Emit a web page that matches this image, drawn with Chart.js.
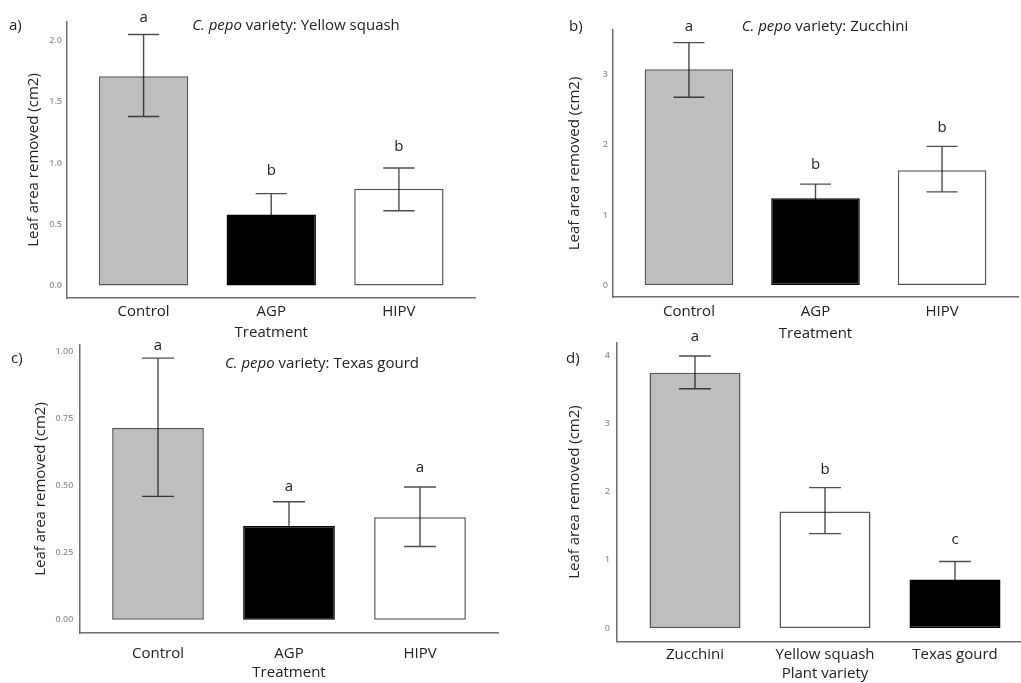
<!DOCTYPE html>
<html>
<head>
<meta charset="utf-8">
<script src="https://cdn.jsdelivr.net/npm/chart.js@4"></script>
<style>
  body { margin: 0; background: #fff; width: 1021px; height: 683px; position: relative; overflow: hidden; font-family: 'Open Sans', sans-serif; color: #222; }
  .panel { position: absolute; }
  .tag, .title { position: absolute; font-size: 15px; line-height: 1; white-space: nowrap; transform: translateY(-50%); z-index: 2; }
  .title { transform: translate(-50%, -50%); }
</style>
</head>
<body>
<div class="panel" style="left:0;top:0;width:480px;height:345px"><canvas id="chartA"></canvas></div>
<div class="panel" style="left:500px;top:0;width:521px;height:345px"><canvas id="chartB"></canvas></div>
<div class="panel" style="left:0;top:330px;width:500px;height:353px"><canvas id="chartC"></canvas></div>
<div class="panel" style="left:500px;top:330px;width:540px;height:353px"><canvas id="chartD"></canvas></div>

<div class="tag" style="left:9px;top:24px">a)</div>
<div class="tag" style="left:569px;top:25px">b)</div>
<div class="tag" style="left:11px;top:357px">c)</div>
<div class="tag" style="left:566px;top:357px">d)</div>
<div class="title" style="left:296px;top:24px"><i>C. pepo</i> variety: Yellow squash</div>
<div class="title" style="left:825px;top:25px"><i>C. pepo</i> variety: Zucchini</div>
<div class="title" style="left:322px;top:362px"><i>C. pepo</i> variety: Texas gourd</div>

<script>
Chart.defaults.font.family = "'Open Sans', sans-serif";
Chart.defaults.color = '#222';

var treatments = ['Control', 'AGP', 'HIPV'];
var varieties = ['Zucchini', 'Yellow squash', 'Texas gourd'];

// a) Yellow squash
var yellowMean = [1.71, 0.58, 0.79];
var yellowLow = [1.38, 0.41, 0.61];
var yellowHigh = [2.05, 0.75, 0.96];
var yellowLetters = ['a', 'b', 'b'];
var yellowLetterAt = [2.155, 0.90, 1.10];
var yellowTicks = [0, 0.5, 1, 1.5, 2];

// b) Zucchini
var zucchiniMean = [3.08, 1.24, 1.64];
var zucchiniLow = [2.68, 1.04, 1.33];
var zucchiniHigh = [3.46, 1.44, 1.98];
var zucchiniLetters = ['a', 'b', 'b'];
var zucchiniLetterAt = [3.63, 1.66, 2.19];
var zucchiniTicks = [0, 1, 2, 3];

// c) Texas gourd
var texasMean = [0.715, 0.35, 0.382];
var texasLow = [0.46, 0.26, 0.273];
var texasHigh = [0.975, 0.44, 0.495];
var texasLetters = ['a', 'a', 'a'];
var texasLetterAt = [1.007, 0.481, 0.549];
var texasTicks = [0, 0.25, 0.5, 0.75, 1];

// d) plant variety
var varietyMean = [3.746, 1.71, 0.714];
var varietyLow = [3.51, 1.385, 0.45];
var varietyHigh = [3.99, 2.06, 0.977];
var varietyLetters = ['a', 'b', 'c'];
var varietyLetterAt = [4.21, 2.26, 1.23];
var varietyTicks = [0, 1, 2, 3, 4];

var treatFill = ['#bebebe', '#000000', '#ffffff'];
var treatEdge = ['#555555', '#000000', '#555555'];
var varietyFill = ['#bebebe', '#ffffff', '#000000'];
var varietyEdge = ['#555555', '#555555', '#000000'];

// error bars + significance letters
function errorMarks(low, high, letters, letterAt) {
    return {
        id: 'errorMarks',
        afterDatasetsDraw: function(chart) {
            var ctx = chart.ctx, xs = chart.scales.x, ys = chart.scales.y;
            var meta = chart.getDatasetMeta(0);
            ctx.save();
            ctx.globalCompositeOperation = 'multiply';
            ctx.strokeStyle = '#4d4d4d';
            ctx.lineWidth = 1.4;
            low.forEach(function(lo, i) {
                var cx = xs.getPixelForValue(i);
                var half = meta.data[i].width * 0.175;
                var y0 = ys.getPixelForValue(lo), y1 = ys.getPixelForValue(high[i]);
                ctx.beginPath();
                ctx.moveTo(cx, y0); ctx.lineTo(cx, y1);
                ctx.moveTo(cx - half, y0); ctx.lineTo(cx + half, y0);
                ctx.moveTo(cx - half, y1); ctx.lineTo(cx + half, y1);
                ctx.stroke();
            });
            ctx.globalCompositeOperation = 'source-over';
            ctx.fillStyle = '#222';
            ctx.font = "15px 'Open Sans'";
            ctx.textAlign = 'center';
            ctx.textBaseline = 'alphabetic';
            letters.forEach(function(t, i) {
                ctx.fillText(t, xs.getPixelForValue(i), ys.getPixelForValue(letterAt[i]));
            });
            ctx.restore();
        }
    };
}

function makeChart(id, c) {
    new Chart(document.getElementById(id), {
        type: 'bar',
        data: {
            datasets: [{
                data: c.mean.map(function(v, i) { return { x: i, y: v }; }),
                backgroundColor: c.fill,
                borderColor: c.edge,
                borderWidth: 1.5,
                borderSkipped: false,
                barPercentage: 0.7,
                categoryPercentage: 1
            }]
        },
        options: {
            responsive: true,
            maintainAspectRatio: false,
            animation: false,
            layout: { padding: { top: c.padTop, right: c.padRight, left: 0, bottom: 0 } },
            plugins: { legend: { display: false }, tooltip: { enabled: false } },
            scales: {
                x: {
                    type: 'linear',
                    offset: false,
                    min: -0.6,
                    max: 2.6,
                    grid: { display: false, drawTicks: false, offset: false },
                    border: { display: true, color: '#6e6e6e', width: 1.5 },
                    afterBuildTicks: function(s) { s.ticks = c.cats.map(function(n, i) { return { value: i }; }); },
                    ticks: {
                        callback: function(v) { return c.cats[v]; },
                        font: { size: 15 }, color: '#222', padding: c.xTickPad,
                        maxRotation: 0, autoSkip: false
                    },
                    title: { display: true, text: c.xTitle, font: { size: 15 }, color: '#222', padding: { top: 0, bottom: c.xTitlePad } },
                    afterFit: function(s) { s.height = c.xH; }
                },
                y: {
                    min: c.yMin,
                    max: c.yMax,
                    grid: { display: false, drawTicks: false },
                    border: { display: true, color: '#6e6e6e', width: 1.5 },
                    afterBuildTicks: function(s) { s.ticks = c.ticks.map(function(v) { return { value: v }; }); },
                    ticks: {
                        callback: function(v) { return v.toFixed(c.dec); },
                        font: { size: 9, weight: '600' }, color: '#959595', padding: c.yTickPad
                    },
                    title: { display: true, text: 'Leaf area removed (cm2)', font: { size: 15 }, color: '#222', padding: { top: c.yTitlePad, bottom: 0 } },
                    afterFit: function(s) { s.width = c.yW; }
                }
            }
        },
        plugins: [errorMarks(c.low, c.high, c.letters, c.letterAt)]
    });
}

makeChart('chartA', {
    cats: treatments, mean: yellowMean, low: yellowLow, high: yellowHigh,
    letters: yellowLetters, letterAt: yellowLetterAt, ticks: yellowTicks, dec: 1,
    fill: treatFill, edge: treatEdge, xTitle: 'Treatment',
    yMin: -0.1025, yMax: 2.1525,
    yW: 67, xH: 47, padTop: 22, padRight: 4.5,
    yTickPad: 5, yTitlePad: 24.5, xTickPad: 5, xTitlePad: 3
});

makeChart('chartB', {
    cats: treatments, mean: zucchiniMean, low: zucchiniLow, high: zucchiniHigh,
    letters: zucchiniLetters, letterAt: zucchiniLetterAt, ticks: zucchiniTicks, dec: 0,
    fill: treatFill, edge: treatEdge, xTitle: 'Treatment',
    yMin: -0.17, yMax: 3.64,
    yW: 113, xH: 48, padTop: 30, padRight: 3,
    yTickPad: 5, yTitlePad: 66, xTickPad: 5.5, xTitlePad: 2
});

makeChart('chartC', {
    cats: treatments, mean: texasMean, low: texasLow, high: texasHigh,
    letters: texasLetters, letterAt: texasLetterAt, ticks: texasTicks, dec: 2,
    fill: treatFill, edge: treatEdge, xTitle: 'Treatment',
    yMin: -0.049, yMax: 1.024,
    yW: 79.4, xH: 50, padTop: 15, padRight: 1.4,
    yTickPad: 6, yTitlePad: 32, xTickPad: 12, xTitlePad: 1
});

makeChart('chartD', {
    cats: varieties, mean: varietyMean, low: varietyLow, high: varietyHigh,
    letters: varietyLetters, letterAt: varietyLetterAt, ticks: varietyTicks, dec: 0,
    fill: varietyFill, edge: varietyEdge, xTitle: 'Plant variety',
    yMin: -0.2, yMax: 4.19,
    yW: 117, xH: 41.3, padTop: 10, padRight: 7,
    yTickPad: 7, yTitlePad: 66, xTickPad: 4, xTitlePad: 0
});
</script>
</body>
</html>
